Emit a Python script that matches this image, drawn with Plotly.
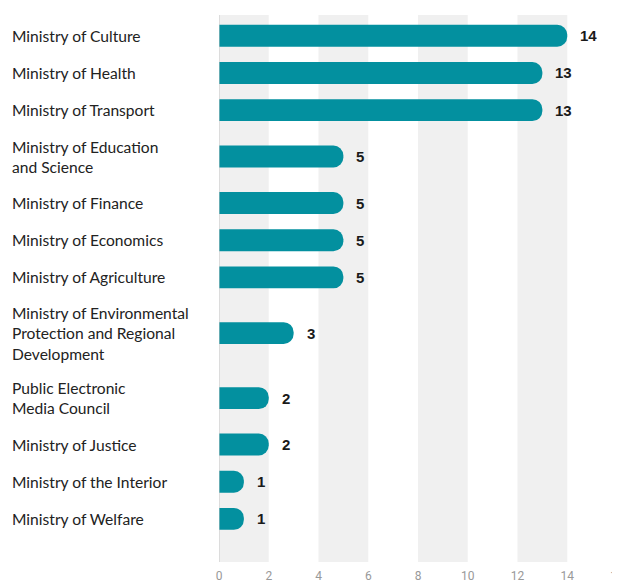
import plotly.graph_objects as go

ministries = [
    "Ministry of Culture",
    "Ministry of Health",
    "Ministry of Transport",
    "Ministry of Education<br>and Science",
    "Ministry of Finance",
    "Ministry of Economics",
    "Ministry of Agriculture",
    "Ministry of Environmental<br>Protection and Regional<br>Development",
    "Public Electronic<br>Media Council",
    "Ministry of Justice",
    "Ministry of the Interior",
    "Ministry of Welfare",
]
counts = [14, 13, 13, 5, 5, 5, 5, 3, 2, 2, 1, 1]
x_ticks = [0, 2, 4, 6, 8, 10, 12, 14, 16]

BAR = "#03909f"

# rows get taller with every extra label line
pos = []
top = 0
for name in ministries:
    h = 1 + 0.5 * name.count("<br>")
    pos.append(top + h / 2)
    top += h

fig = go.Figure()
fig.add_trace(go.Bar(
    x=counts, y=pos, orientation="h",
    width=0.59,
    marker=dict(color=BAR, cornerradius=11, line=dict(width=0)),
    hoverinfo="skip",
))

# value labels next to each bar
for v, p in zip(counts, pos):
    fig.add_annotation(x=v, y=p, text=f"<b>{v}</b>", showarrow=False,
                       xanchor="left", xshift=11,
                       font=dict(family="Liberation Sans, Arial", size=15,
                                 color="#1a1a1a"))

# category labels, left aligned
for name, p in zip(ministries, pos):
    fig.add_annotation(x=0, xref="paper", y=p, text=name, showarrow=False,
                       xanchor="left", align="left", xshift=-209,
                       font=dict(family="Lato", size=15.6, color="#222222"))

# alternating grey bands
for a in x_ticks[:-1:2]:
    fig.add_shape(type="rect", xref="x", yref="paper", x0=a, x1=a + 2,
                  y0=0, y1=1, fillcolor="#f0f0f0", line=dict(width=0),
                  layer="below")
fig.add_shape(type="line", xref="x", yref="paper", x0=16, x1=16, y0=0, y1=1,
              line=dict(color="#c8c8c8", width=1.5, dash="dot"), layer="below")
fig.add_shape(type="line", xref="x", yref="paper", x0=0, x1=0, y0=0, y1=1,
              line=dict(color="#c8c8c8", width=1))

fig.update_layout(
    width=620, height=580,
    margin=dict(l=211, r=11, t=7, b=26),
    plot_bgcolor="white", paper_bgcolor="white",
    showlegend=False,
    xaxis=dict(range=[0, 16], tickvals=x_ticks, showgrid=False,
               zeroline=False, showline=False, ticks="",
               automargin=False, ticklabelstandoff=5,
               ticklabeloverflow="allow",
               tickfont=dict(family="Roboto", size=12, color="#999999")),
    yaxis=dict(range=[top + 0.66, -0.06], showticklabels=False,
               showgrid=False, zeroline=False, showline=False,
               automargin=False),
)

fig.write_html("out.html")
